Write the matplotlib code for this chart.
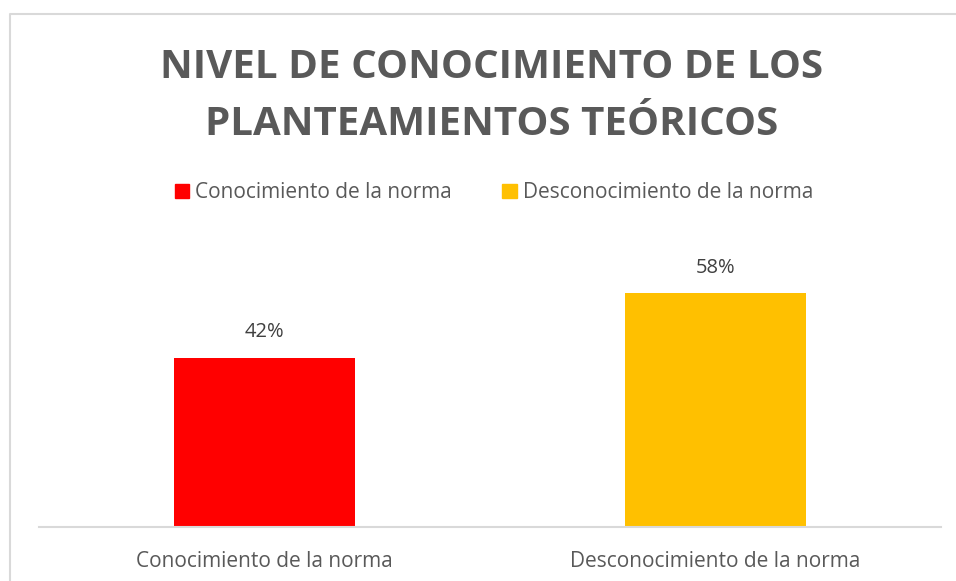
import matplotlib.pyplot as plt
from matplotlib.lines import Line2D
from matplotlib.patches import Patch

# datos
categorias = ["Conocimiento de la norma", "Desconocimiento de la norma"]
valores = [0.42, 0.58]
colores = ["#FF0000", "#FFC000"]
titulo = "NIVEL DE CONOCIMIENTO DE LOS\nPLANTEAMIENTOS TEÓRICOS"

plt.rcParams['font.family'] = ['Open Sans', 'DejaVu Sans']
gris = "#595959"

W, H = 956, 581
fig = plt.figure(figsize=(W / 100, H / 100), dpi=100)

# ejes en pixeles: x 39..941, y 200..527 (desde arriba)
ax = fig.add_axes([39 / W, 1 - 527 / H, 902 / W, 327 / H])
x = range(len(categorias))
barras = ax.bar(x, valores, width=0.4, color=colores)
ax.set_xlim(-0.5, 1.5)
ax.set_ylim(0, 327 / 403)
ax.set_yticks([])
ax.set_xticks(list(x))
ax.set_xticklabels(categorias, fontsize=15, color=gris)
ax.tick_params(axis='x', length=0, pad=17)
for s in ["top", "right", "left"]:
    ax.spines[s].set_visible(False)
ax.spines["bottom"].set_color("#d9d9d9")
ax.spines["bottom"].set_linewidth(1.5)

for b, v in zip(barras, valores):
    ax.annotate(f"{v:.0%}", (b.get_x() + b.get_width() / 2, v),
                xytext=(0, 11), textcoords="offset points",
                ha="center", va="bottom", fontsize=14.5, color="#404040")

fig.text(492 / W, 1 - 96 / H, titulo, ha="center", va="center",
         fontsize=29, fontweight="bold", color=gris, linespacing=1.6)

handles = [Patch(color=c, label=l) for c, l in zip(colores, categorias)]
fig.legend(handles=handles, loc="center", bbox_to_anchor=(494 / W, 1 - 193 / H),
           ncol=2, frameon=False, fontsize=15, labelcolor=gris,
           handlelength=0.7, handleheight=0.7, handletextpad=0.3,
           columnspacing=2.4)

# borde del grafico (izquierda y arriba)
fig.add_artist(Line2D([10 / W, 10 / W, 1], [0, 1 - 14 / H, 1 - 14 / H],
                      transform=fig.transFigure, color="#d9d9d9", lw=1.5))

fig.savefig("out.png", dpi=100)
